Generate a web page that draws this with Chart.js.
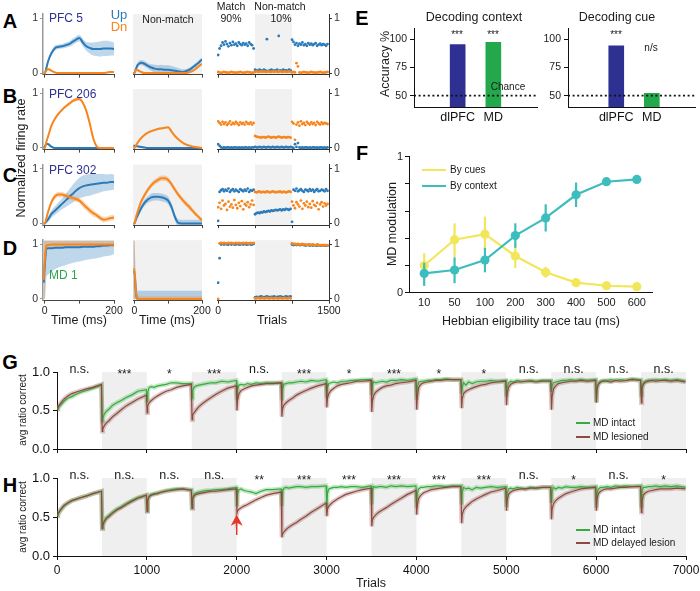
<!DOCTYPE html>
<html><head><meta charset="utf-8"><title>MD figure</title>
<script src="https://cdn.jsdelivr.net/npm/chart.js@4.4.1/dist/chart.umd.min.js"></script>
<style>
html,body{margin:0;padding:0;background:#fff;}
#root{position:relative;width:700px;height:591px;overflow:hidden;font-family:"Liberation Sans",Arial,Helvetica,sans-serif;color:#1a1a1a;}
#root canvas{position:absolute;}
.t{position:absolute;white-space:nowrap;line-height:1;}
.sw{position:absolute;height:2px;}
</style></head><body><div id="root"></div>
<script>
// ================= DATA =================
// Panels A-D : time course (ms)
const timeMs = [-3,0,5,10,20,30,40,50,60,70,80,90,100,110,120,130,140,150,160,170,180,190,200];
// PFC 5
const pfc5UpMatch    = [0,0,0.10,0.22,0.37,0.46,0.48,0.49,0.51,0.53,0.57,0.61,0.64,0.56,0.49,0.46,0.44,0.44,0.44,0.45,0.45,0.45,0.44];
const pfc5UpMatchSem = [0,0,0.02,0.03,0.04,0.05,0.04,0.04,0.05,0.05,0.06,0.06,0.06,0.07,0.08,0.10,0.12,0.13,0.14,0.14,0.14,0.13,0.12];
const pfc5DnMatch    = [0,0,0.05,0.07,0.04,0.01,0,0,0,0,0,0,0,0,0,0,0,0,0,0,0.01,0.02,0.02];
const pfc5UpNon      = [0,0,0.08,0.15,0.19,0.17,0.13,0.10,0.08,0.07,0.07,0.06,0.06,0.05,0.04,0.03,0.02,0.03,0.05,0.09,0.14,0.19,0.25];
const pfc5UpNonSem   = [0,0,0.02,0.04,0.05,0.05,0.05,0.06,0.07,0.07,0.08,0.08,0.08,0.08,0.07,0.06,0.05,0.04,0.04,0.04,0.04,0.04,0.04];
const pfc5DnNon      = [0,0,0.06,0.05,0.02,0,0,0,0,0,0,0,0,0,0,0,0,0,0.01,0.03,0.07,0.12,0.17];
const smallSem       = [0,0,0.01,0.02,0.02,0.01,0.01,0.01,0.01,0.01,0.01,0.01,0.01,0.01,0.01,0.01,0.01,0.01,0.01,0.01,0.01,0.01,0.01];
// PFC 206
const pfc206UpMatch    = [0,0.02,0.08,0.07,0.02,0,0,0,0,0,0,0,0,0,0,0,0,0,0,0,0,0,0];
const pfc206DnMatch    = [0,0,0.12,0.22,0.42,0.54,0.63,0.70,0.76,0.81,0.86,0.89,0.90,0.83,0.68,0.45,0.18,0.03,0,0,0,0,0];
const pfc206DnMatchSem = [0,0,0.02,0.03,0.03,0.03,0.03,0.03,0.03,0.03,0.03,0.03,0.03,0.04,0.04,0.04,0.03,0.02,0.01,0.01,0.01,0.01,0.01];
const pfc206UpNon      = [0.04,0.04,0.035,0.03,0.02,0.01,0,0,0,0,0,0,0,0,0,0,0,0,0,0,0,0,0];
const pfc206DnNon      = [0,0,0.05,0.10,0.18,0.24,0.28,0.31,0.33,0.35,0.36,0.37,0.38,0.30,0.22,0.16,0.11,0.07,0.05,0.03,0.02,0.01,0];
const pfc206DnNonSem   = [0,0,0.01,0.02,0.02,0.02,0.02,0.02,0.02,0.02,0.02,0.02,0.02,0.02,0.02,0.02,0.02,0.02,0.01,0.01,0.01,0.01,0.01];
// PFC 302
const pfc302UpMatch    = [0,0,0.04,0.08,0.18,0.24,0.30,0.36,0.42,0.48,0.54,0.60,0.65,0.68,0.70,0.71,0.72,0.73,0.74,0.75,0.75,0.76,0.76];
const pfc302UpMatchSem = [0,0,0.03,0.05,0.07,0.08,0.09,0.10,0.12,0.14,0.16,0.18,0.19,0.20,0.20,0.20,0.19,0.18,0.17,0.16,0.15,0.15,0.14];
const pfc302DnMatch    = [0,0,0.10,0.22,0.40,0.50,0.53,0.53,0.51,0.49,0.47,0.45,0.42,0.36,0.30,0.24,0.19,0.15,0.10,0.07,0.08,0.10,0.11];
const pfc302DnMatchSem = [0,0,0.03,0.04,0.05,0.05,0.05,0.05,0.05,0.05,0.05,0.05,0.05,0.06,0.06,0.06,0.06,0.05,0.05,0.05,0.05,0.05,0.05];
const pfc302UpNon      = [0,0,0.08,0.15,0.28,0.38,0.44,0.48,0.49,0.49,0.48,0.46,0.42,0.30,0.12,0.01,0,0,0,0,0,0,0];
const pfc302UpNonSem   = [0,0,0.03,0.04,0.05,0.06,0.06,0.07,0.07,0.07,0.07,0.07,0.07,0.07,0.07,0.07,0.07,0.07,0.07,0.07,0.07,0.07,0.07];
const pfc302DnNon      = [0,0,0.12,0.22,0.40,0.52,0.62,0.70,0.76,0.80,0.83,0.83,0.80,0.72,0.62,0.53,0.45,0.38,0.32,0.25,0.18,0.12,0.06];
const pfc302DnNonSem   = [0,0,0.03,0.04,0.05,0.05,0.05,0.05,0.05,0.05,0.05,0.05,0.05,0.05,0.05,0.05,0.05,0.05,0.05,0.05,0.04,0.04,0.04];
// MD 1
const md1UpMatch   = [0.30,0.60,0.92,0.93,0.93,0.94,0.94,0.94,0.95,0.95,0.95,0.95,0.95,0.96,0.96,0.96,0.96,0.97,0.97,0.98,0.98,0.99,0.99];
const md1UpMatchLo = [0,0,0.40,0.45,0.50,0.55,0.58,0.60,0.62,0.64,0.66,0.68,0.69,0.70,0.72,0.73,0.74,0.75,0.76,0.78,0.79,0.80,0.82];
const md1UpMatchHi = [1.08,1.08,1.08,1.08,1.08,1.08,1.08,1.08,1.08,1.08,1.08,1.08,1.08,1.08,1.08,1.08,1.08,1.08,1.08,1.08,1.08,1.08,1.08];
const md1DnMatch   = [0.35,0.70,0.98,0.99,1,1,1,1,1,1,1,1,1,1,1,1,1,1,1,1,1,1,1];
const md1DnMatchLo = [0,0,0.90,0.94,0.95,0.95,0.95,0.95,0.95,0.95,0.95,0.95,0.95,0.95,0.95,0.95,0.95,0.95,0.95,0.95,0.95,0.95,0.95];
const md1DnMatchHi = [1.08,1.08,1.08,1.08,1.08,1.08,1.08,1.08,1.08,1.08,1.08,1.08,1.08,1.08,1.08,1.08,1.08,1.08,1.08,1.08,1.08,1.08,1.08];
const md1UpNon     = [0.50,0.50,0.10,0,0,0,0,0,0,0,0,0,0,0,0,0,0,0,0,0,0,0,0];
const md1UpNonLo   = [0,0,0,0,0,0,0,0,0,0,0,0,0,0,0,0,0,0,0,0,0,0,0];
const md1UpNonHi   = [1.08,1.08,0.30,0.15,0.15,0.15,0.15,0.15,0.15,0.15,0.15,0.15,0.15,0.15,0.15,0.15,0.15,0.15,0.15,0.15,0.15,0.15,0.15];
const md1DnNon     = [0.55,0.55,0.12,0,0,0,0,0,0,0,0,0,0,0,0,0,0,0,0,0,0,0,0];
const md1DnNonLo   = [0,0,0,0,0,0,0,0,0,0,0,0,0,0,0,0,0,0,0,0,0,0,0];
const md1DnNonHi   = [1.08,1.08,0.25,0.05,0.05,0.05,0.05,0.05,0.05,0.05,0.05,0.05,0.05,0.05,0.05,0.05,0.05,0.05,0.05,0.05,0.05,0.05,0.05];

// Trial-by-trial firing (right column)
const trialIdx = [0,20,40,60,80,100,120,140,160,180,200,220,240,260,280,300,320,340,360,380,400,420,440,460,480,
  500,520,540,560,580,600,620,640,660,680,700,720,740,760,780,800,820,840,860,880,900,920,940,960,980,
  1000,1020,1040,1060,1080,1100,1120,1140,1160,1180,1200,1220,1240,1260,1280,1300,1320,1340,1360,1380,1400,1420,1440,1460,1480];
const pfc5UpTrials = [0.33,0.45,0.50,0.56,0.52,0.58,0.53,0.49,0.55,0.51,0.57,0.52,0.54,0.50,0.56,0.53,0.51,0.55,0.52,0.54,0.50,0.56,0.53,0.51,0.45,
  0.06,0.05,0.04,0.06,0.05,0.04,0.06,0.05,0.62,0.04,0.05,0.06,0.05,0.04,0.05,0.06,0.68,0.05,0.04,0.06,0.05,0.05,0.04,0.06,0.05,
  0.61,0.57,0.52,0.55,0.50,0.54,0.52,0.56,0.51,0.53,0.50,0.55,0.52,0.54,0.51,0.53,0.55,0.50,0.52,0.54,0.51,0.53,0.52,0.50,0.53];
const pfc5DnTrials = [0.02,0.01,0.00,0.01,0.02,0.01,0.01,0.00,0.01,0.02,0.01,0.01,0.00,0.01,0.01,0.02,0.01,0.00,0.01,0.01,0.02,0.01,0.01,0.00,0.01,
  0.02,0.03,0.02,0.02,0.03,0.02,0.03,0.02,0.02,0.03,0.02,0.02,0.03,0.02,0.03,0.02,0.02,0.03,0.02,0.02,0.03,0.02,0.02,0.03,0.02,
  0.01,0.02,0.01,0.18,0.12,0.01,0.00,0.01,0.02,0.01,0.01,0.00,0.01,0.02,0.01,0.01,0.00,0.01,0.01,0.02,0.01,0.00,0.01,0.01,0.02];
const pfc206UpTrials = [0.07,0.04,0.01,0.00,0.01,0.00,0.01,0.01,0.00,0.01,0.00,0.01,0.01,0.00,0.01,0.00,0.01,0.00,0.01,0.01,0.00,0.01,0.00,0.01,0.01,
  0.02,0.01,0.01,0.02,0.01,0.01,0.02,0.01,0.01,0.02,0.01,0.01,0.02,0.01,0.01,0.02,0.01,0.01,0.02,0.01,0.01,0.02,0.01,0.01,0.02,
  0.01,0.00,0.07,0.02,0.09,0.01,0.00,0.01,0.00,0.01,0.01,0.00,0.01,0.00,0.01,0.01,0.00,0.01,0.00,0.01,0.01,0.00,0.01,0.00,0.01];
const pfc206DnTrials = [0.49,0.46,0.43,0.48,0.44,0.47,0.42,0.45,0.49,0.43,0.46,0.44,0.48,0.45,0.42,0.47,0.44,0.46,0.43,0.48,0.45,0.44,0.47,0.43,0.46,
  0.22,0.21,0.20,0.20,0.19,0.20,0.20,0.19,0.20,0.21,0.20,0.19,0.20,0.20,0.19,0.20,0.21,0.20,0.19,0.20,0.20,0.19,0.20,0.20,0.19,
  0.48,0.45,0.15,0.43,0.47,0.41,0.49,0.44,0.46,0.42,0.48,0.45,0.43,0.47,0.44,0.46,0.42,0.48,0.45,0.43,0.47,0.44,0.46,0.45,0.44];
const pfc302UpTrials = [0.05,0.58,0.61,0.63,0.59,0.62,0.60,0.64,0.58,0.61,0.63,0.59,0.62,0.60,0.58,0.63,0.61,0.59,0.62,0.60,0.64,0.58,0.61,0.60,0.62,
  0.17,0.19,0.20,0.19,0.21,0.20,0.22,0.21,0.22,0.23,0.22,0.24,0.23,0.24,0.25,0.24,0.25,0.26,0.24,0.26,0.25,0.27,0.26,0.25,0.27,
  0.03,0.62,0.60,0.64,0.59,0.61,0.63,0.60,0.58,0.62,0.61,0.59,0.63,0.60,0.62,0.58,0.61,0.63,0.59,0.60,0.62,0.61,0.59,0.63,0.60];
const pfc302DnTrials = [0.30,0.38,0.27,0.42,0.33,0.36,0.25,0.40,0.31,0.35,0.29,0.43,0.34,0.28,0.38,0.32,0.41,0.26,0.36,0.33,0.39,0.30,0.35,0.42,0.34,
  0.58,0.57,0.58,0.59,0.57,0.58,0.58,0.57,0.59,0.58,0.57,0.58,0.59,0.58,0.57,0.58,0.58,0.59,0.57,0.58,0.58,0.57,0.58,0.59,0.58,
  0.40,0.33,0.28,0.39,0.35,0.31,0.42,0.27,0.37,0.33,0.40,0.30,0.36,0.29,0.41,0.34,0.32,0.38,0.26,0.35,0.39,0.31,0.37,0.33,0.36];
const md1UpTrials = [0.30,0.75,1.00,1.01,1.00,1.01,1.00,1.00,1.01,1.00,1.01,1.00,1.00,1.01,1.00,1.00,1.01,1.00,1.01,1.00,1.00,1.01,1.00,1.00,1.01,
  0.03,0.04,0.03,0.04,0.05,0.04,0.03,0.04,0.05,0.04,0.03,0.04,0.04,0.05,0.03,0.04,0.04,0.05,0.04,0.03,0.04,0.05,0.04,0.04,0.05,
  1.00,0.99,1.00,0.99,1.00,0.99,0.99,1.00,0.99,0.98,0.99,0.99,0.98,0.99,0.98,0.99,0.98,0.98,0.99,0.98,0.98,0.99,0.98,0.98,0.98];
const md1DnTrials = [0.00,1.02,1.03,1.02,1.03,1.02,1.02,1.03,1.02,1.03,1.02,1.02,1.03,1.02,1.03,1.02,1.02,1.03,1.02,1.03,1.02,1.02,1.03,1.02,1.03,
  0.01,0.01,0.02,0.01,0.01,0.02,0.01,0.01,0.02,0.01,0.01,0.02,0.01,0.01,0.02,0.01,0.01,0.02,0.01,0.01,0.02,0.01,0.01,0.02,0.01,
  1.02,1.01,1.01,1.00,1.01,1.00,1.00,1.01,1.00,1.00,0.99,1.00,1.00,0.99,1.00,0.99,0.99,1.00,0.99,0.99,0.99,0.98,0.99,0.99,0.98];

// Panel E : decoding accuracy (%)
const decodeCats = ['dlPFC','MD'];
const contextAcc = [95, 97];
const cueAcc = [94, 52];
const chanceLevel = 50;

// Panel F : MD modulation
const tauLabels = ['10','50','100','200','300','400','500','600'];
const byCues      = [0.20,0.39,0.43,0.27,0.15,0.074,0.051,0.044];
const byCuesLo    = [0.14,0.26,0.31,0.18,0.11,null,null,null];
const byCuesHi    = [0.29,0.51,0.56,0.36,0.19,null,null,null];
const byContext   = [0.142,0.167,0.24,0.42,0.55,0.72,0.816,0.833];
const byContextLo = [0.05,0.07,0.15,0.33,0.45,0.63,null,null];
const byContextHi = [0.22,0.26,0.33,0.51,0.65,0.81,null,null];

// Panels G/H : avg ratio correct over trials
const trialsGH = [
 3,10,25,50,80,120,165,215,270,330,400,495,
 503,510,525,550,580,620,665,715,770,830,900,995,
 1003,1010,1025,1050,1080,1120,1165,1215,1270,1330,1400,1495,
 1503,1510,1525,1550,1580,1620,1665,1715,1770,1830,1900,1995,
 2003,2010,2025,2050,2080,2120,2165,2215,2270,2330,2400,2495,
 2503,2510,2525,2550,2580,2620,2665,2715,2770,2830,2900,2995,
 3003,3010,3025,3050,3080,3120,3165,3215,3270,3330,3400,3495,
 3503,3510,3525,3550,3580,3620,3665,3715,3770,3830,3900,3995,
 4003,4010,4025,4050,4080,4120,4165,4215,4270,4330,4400,4495,
 4503,4510,4525,4550,4580,4620,4665,4715,4770,4830,4900,4995,
 5003,5010,5025,5050,5080,5120,5165,5215,5270,5330,5400,5495,
 5503,5510,5525,5550,5580,5620,5665,5715,5770,5830,5900,5995,
 6003,6010,6025,6050,6080,6120,6165,6215,6270,6330,6400,6495,
 6503,6510,6525,6550,6580,6620,6665,6715,6770,6830,6900,6995];
const gIntact = [
 0.52,0.53,0.55,0.58,0.62,0.66,0.68,0.71,0.74,0.76,0.79,0.83,
 0.36,0.40,0.45,0.49,0.52,0.57,0.60,0.63,0.67,0.70,0.75,0.77,
 0.62,0.74,0.80,0.81,0.80,0.82,0.83,0.84,0.86,0.86,0.85,0.85,
 0.66,0.76,0.80,0.82,0.83,0.84,0.85,0.86,0.86,0.88,0.87,0.89,
 0.64,0.78,0.83,0.84,0.83,0.85,0.84,0.86,0.85,0.86,0.86,0.86,
 0.63,0.78,0.84,0.85,0.86,0.86,0.87,0.88,0.87,0.89,0.88,0.90,
 0.66,0.80,0.85,0.86,0.87,0.86,0.88,0.88,0.89,0.89,0.90,0.90,
 0.70,0.83,0.87,0.86,0.87,0.88,0.87,0.89,0.89,0.90,0.89,0.91,
 0.64,0.80,0.87,0.88,0.88,0.89,0.89,0.90,0.90,0.91,0.90,0.90,
 0.72,0.80,0.86,0.83,0.87,0.85,0.87,0.88,0.88,0.89,0.88,0.89,
 0.68,0.80,0.86,0.88,0.87,0.89,0.88,0.88,0.89,0.88,0.89,0.89,
 0.74,0.82,0.86,0.87,0.88,0.89,0.89,0.90,0.89,0.90,0.89,0.90,
 0.61,0.80,0.86,0.88,0.89,0.89,0.90,0.89,0.90,0.89,0.91,0.90,
 0.70,0.82,0.86,0.88,0.89,0.89,0.90,0.89,0.90,0.89,0.90,0.88];
const gLesioned = [
 0.52,0.54,0.57,0.61,0.65,0.69,0.72,0.74,0.76,0.78,0.80,0.84,
 0.23,0.26,0.30,0.34,0.37,0.42,0.46,0.51,0.56,0.60,0.65,0.70,
 0.47,0.56,0.60,0.63,0.66,0.69,0.72,0.75,0.77,0.80,0.82,0.84,
 0.38,0.44,0.47,0.51,0.55,0.59,0.63,0.67,0.71,0.75,0.79,0.82,
 0.50,0.64,0.72,0.76,0.78,0.80,0.82,0.83,0.84,0.85,0.85,0.86,
 0.42,0.52,0.57,0.60,0.63,0.66,0.70,0.73,0.76,0.79,0.82,0.85,
 0.54,0.66,0.72,0.76,0.79,0.82,0.84,0.85,0.86,0.88,0.88,0.89,
 0.48,0.62,0.70,0.74,0.77,0.80,0.82,0.83,0.85,0.86,0.87,0.89,
 0.51,0.68,0.80,0.84,0.86,0.87,0.88,0.89,0.89,0.90,0.90,0.90,
 0.53,0.65,0.72,0.75,0.77,0.79,0.81,0.83,0.84,0.86,0.87,0.88,
 0.57,0.72,0.80,0.84,0.86,0.87,0.87,0.88,0.88,0.87,0.88,0.88,
 0.51,0.68,0.78,0.82,0.85,0.86,0.87,0.88,0.88,0.89,0.88,0.89,
 0.60,0.78,0.84,0.87,0.88,0.88,0.87,0.89,0.88,0.89,0.90,0.89,
 0.60,0.78,0.84,0.87,0.88,0.89,0.88,0.89,0.89,0.88,0.89,0.87];
const hIntact = [
 0.52,0.53,0.56,0.60,0.64,0.68,0.71,0.73,0.75,0.77,0.80,0.83,
 0.36,0.40,0.45,0.49,0.52,0.56,0.60,0.63,0.67,0.71,0.75,0.78,
 0.58,0.72,0.77,0.79,0.80,0.81,0.82,0.84,0.85,0.86,0.86,0.85,
 0.62,0.75,0.79,0.81,0.82,0.83,0.84,0.84,0.85,0.85,0.86,0.88,
 0.64,0.80,0.85,0.86,0.84,0.83,0.82,0.80,0.83,0.85,0.85,0.86,
 0.64,0.82,0.87,0.88,0.87,0.88,0.89,0.89,0.88,0.89,0.89,0.90,
 0.62,0.80,0.86,0.87,0.88,0.88,0.89,0.88,0.89,0.89,0.88,0.90,
 0.66,0.84,0.89,0.88,0.89,0.89,0.88,0.90,0.89,0.90,0.89,0.90,
 0.62,0.80,0.86,0.88,0.88,0.89,0.89,0.90,0.90,0.89,0.90,0.90,
 0.66,0.82,0.88,0.86,0.87,0.85,0.88,0.87,0.88,0.89,0.88,0.89,
 0.63,0.80,0.86,0.87,0.86,0.88,0.87,0.86,0.88,0.87,0.88,0.88,
 0.68,0.83,0.88,0.86,0.88,0.87,0.89,0.88,0.88,0.89,0.88,0.89,
 0.62,0.80,0.86,0.88,0.88,0.89,0.88,0.90,0.89,0.90,0.89,0.90,
 0.64,0.82,0.88,0.88,0.89,0.89,0.90,0.89,0.90,0.89,0.90,0.88];
const hDelayed = [
 0.52,0.54,0.57,0.61,0.65,0.68,0.71,0.73,0.75,0.77,0.80,0.83,
 0.35,0.39,0.44,0.48,0.51,0.55,0.59,0.62,0.66,0.70,0.74,0.78,
 0.57,0.71,0.76,0.78,0.79,0.80,0.82,0.83,0.84,0.85,0.86,0.84,
 0.61,0.73,0.77,0.79,0.80,0.81,0.82,0.83,0.83,0.84,0.85,0.86,
 0.55,0.58,0.60,0.62,0.64,0.66,0.69,0.72,0.75,0.78,0.80,0.82,
 0.24,0.28,0.31,0.34,0.37,0.40,0.43,0.47,0.51,0.56,0.61,0.68,
 0.51,0.60,0.64,0.67,0.70,0.73,0.76,0.79,0.81,0.83,0.85,0.87,
 0.38,0.46,0.50,0.53,0.56,0.59,0.62,0.66,0.70,0.74,0.79,0.84,
 0.53,0.66,0.74,0.78,0.81,0.83,0.85,0.86,0.87,0.88,0.89,0.89,
 0.42,0.53,0.59,0.63,0.66,0.70,0.73,0.76,0.79,0.82,0.84,0.87,
 0.58,0.72,0.79,0.82,0.84,0.85,0.86,0.86,0.87,0.87,0.88,0.88,
 0.47,0.60,0.67,0.71,0.74,0.77,0.80,0.82,0.84,0.86,0.87,0.88,
 0.58,0.74,0.80,0.83,0.85,0.86,0.86,0.87,0.88,0.88,0.89,0.89,
 0.56,0.70,0.78,0.81,0.83,0.84,0.85,0.86,0.86,0.86,0.87,0.86];
const gSig = ['n.s.','***','*','***','n.s.','***','*','***','*','*','n.s.','n.s.','n.s.','n.s.'];
const hSig = ['n.s.','n.s.','n.s.','n.s.','**','***','***','***','***','***','n.s.','*','n.s.','*'];
const ghTickLabels = [0,1000,2000,3000,4000,5000,6000,7000];
const ghBlocks = [[500,1000],[1500,2000],[2500,3000],[3500,4000],[4500,5000],[5500,6000],[6500,7000]];
const lesionOnsetTrial = 2000;

// ================= RENDER =================
Chart.defaults.font.family = '"Liberation Sans", Arial, Helvetica, sans-serif';
Chart.defaults.color = '#1a1a1a';
Chart.defaults.animation = false;
Chart.defaults.plugins.legend.display = false;
Chart.defaults.plugins.tooltip.enabled = false;
Chart.defaults.events = [];

const root = document.getElementById('root');
const COL = {up:'#2b7bba', dn:'#f7861f', upBand:'rgba(43,123,186,0.30)', dnBand:'rgba(247,134,31,0.32)',
  navy:'#2e3192', green:'#23a84b', teal:'#3dbdbd', yellow:'#f2e65a',
  gLine:'#38ab3e', bLine:'#8b4a40', gBand:'rgba(60,180,70,0.30)', bBand:'rgba(150,80,70,0.30)', shade:'#f1f1f1'};
const pts = (xs, ys) => xs.map((x, i) => ({x, y: ys[i]}));

function mk(plot, m, cfg){
  const cl=Math.floor(plot.l-m.l), ct=Math.floor(plot.t-m.t), cr=Math.ceil(plot.r+m.r), cb=Math.ceil(plot.b+m.b);
  const W=cr-cl, H=cb-ct;
  const cv=document.createElement('canvas');
  cv.width=W; cv.height=H;
  Object.assign(cv.style,{left:cl+'px',top:ct+'px',width:W+'px',height:H+'px'});
  root.appendChild(cv);
  const sz={left:plot.l-cl, right:cr-plot.r, top:plot.t-ct, bottom:cb-plot.b};
  const used={};
  for (const s of Object.values(cfg.options.scales)) {
    if (s.display===false) continue;
    used[s.position]=true;
    s.afterFit = a => { const p=a.options.position; if(p==='left'||p==='right') a.width=sz[p]; else a.height=sz[p];
      a.paddingLeft=a.paddingRight=a.paddingTop=a.paddingBottom=0; };
  }
  cfg.options.layout={autoPadding:false,padding:{left:used.left?0:sz.left,right:used.right?0:sz.right,top:used.top?0:sz.top,bottom:used.bottom?0:sz.bottom}};
  cfg.options.responsive=false; cfg.options.maintainAspectRatio=false; cfg.options.animation=false; cfg.options.devicePixelRatio=1;
  return new Chart(cv,cfg);
}
function fixedTicks(vals){ return s => { s.ticks = vals.map(v => ({value:v})); }; }
function shadePlugin(ranges, color){ return {id:'shade', beforeDraw(c){
  const {ctx, chartArea:r} = c, x = c.scales.x; ctx.save(); ctx.fillStyle = color;
  for (const [a0,a1] of ranges){ const p0=Math.max(r.left,x.getPixelForValue(a0)), p1=Math.min(r.right,x.getPixelForValue(a1)); if(p1>p0) ctx.fillRect(p0,r.top,p1-p0,r.bottom-r.top); }
  ctx.restore(); }}; }
function sigPlugin(labels, block){ return {id:'sig', afterDraw(c){
  const ctx=c.ctx, x=c.scales.x, top=c.chartArea.top; ctx.save(); ctx.fillStyle='#1a1a1a'; ctx.textAlign='center'; ctx.textBaseline='alphabetic';
  labels.forEach((s,i)=>{ const px=x.getPixelForValue(i*block+block/2); const star=s.charAt(0)==='*';
    ctx.font=(star?'12px':'12.5px')+' "Liberation Sans", Arial'; ctx.fillText(s, px, star? top+6 : top+1); });
  ctx.restore(); }}; }
function arrowPlugin(xv, yTail, yTip){ return {id:'arrow', afterDatasetsDraw(c){
  const x=c.scales.x.getPixelForValue(xv), y0=c.scales.y.getPixelForValue(yTail), y1=c.scales.y.getPixelForValue(yTip), ctx=c.ctx;
  ctx.save(); ctx.strokeStyle=ctx.fillStyle='#e8352b'; ctx.lineWidth=1.5;
  ctx.beginPath(); ctx.moveTo(x,y0); ctx.lineTo(x,y1+7); ctx.stroke();
  ctx.beginPath(); ctx.moveTo(x,y1); ctx.lineTo(x-6,y1+11); ctx.lineTo(x,y1+8); ctx.lineTo(x+6,y1+11); ctx.closePath(); ctx.fill();
  ctx.restore(); }}; }
function errPlugin(sets){ return {id:'err', afterDatasetDraw(c, args){
  const s=sets[args.index]; if(!s) return; const ctx=c.ctx, x=c.scales.x, y=c.scales.y;
  ctx.save(); ctx.strokeStyle=s.color; ctx.lineWidth=2.2;
  s.lo.forEach((lo,i)=>{ if(lo==null) return; const px=x.getPixelForValue(i);
    ctx.beginPath(); ctx.moveTo(px,y.getPixelForValue(lo)); ctx.lineTo(px,y.getPixelForValue(s.hi[i])); ctx.stroke(); });
  ctx.restore(); }}; }

// ---------- Panels A-D ----------
const rowsY = [{y1:18.5,y0:73},{y1:93.5,y0:148},{y1:169,y0:223.5},{y1:244.5,y0:299}];
const Y_MIN=-0.03, Y_MAX=1.08;
const rows = [
  {match:{up:pfc5UpMatch,upSem:pfc5UpMatchSem,dn:pfc5DnMatch,dnSem:smallSem},
   non:{up:pfc5UpNon,upSem:pfc5UpNonSem,dn:pfc5DnNon,dnSem:smallSem}, tr:{up:pfc5UpTrials,dn:pfc5DnTrials}},
  {match:{up:pfc206UpMatch,upSem:smallSem,dn:pfc206DnMatch,dnSem:pfc206DnMatchSem},
   non:{up:pfc206UpNon,upSem:smallSem,dn:pfc206DnNon,dnSem:pfc206DnNonSem}, tr:{up:pfc206UpTrials,dn:pfc206DnTrials}},
  {match:{up:pfc302UpMatch,upSem:pfc302UpMatchSem,dn:pfc302DnMatch,dnSem:pfc302DnMatchSem},
   non:{up:pfc302UpNon,upSem:pfc302UpNonSem,dn:pfc302DnNon,dnSem:pfc302DnNonSem}, tr:{up:pfc302UpTrials,dn:pfc302DnTrials}},
  {match:{up:md1UpMatch,upLo:md1UpMatchLo,upHi:md1UpMatchHi,dn:md1DnMatch,dnLo:md1DnMatchLo,dnHi:md1DnMatchHi},
   non:{up:md1UpNon,upLo:md1UpNonLo,upHi:md1UpNonHi,dn:md1DnNon,dnLo:md1DnNonLo,dnHi:md1DnNonHi}, tr:{up:md1UpTrials,dn:md1DnTrials}}
];
function bandOf(mean, sem, lo, hi){ return lo ? [lo, hi] : [mean.map((v,i)=>v-sem[i]), mean.map((v,i)=>v+sem[i])]; }
function lineSets(d){
  const [uLo,uHi]=bandOf(d.up,d.upSem,d.upLo,d.upHi), [dLo,dHi]=bandOf(d.dn,d.dnSem,d.dnLo,d.dnHi);
  const L = (ys,col,w)=>({type:'line',data:pts(timeMs,ys),borderColor:col,borderWidth:w,pointRadius:0,fill:false,cubicInterpolationMode:'monotone'});
  const B = (ys,col)=>({type:'line',data:pts(timeMs,ys),borderWidth:0,pointRadius:0,fill:'+1',backgroundColor:col,cubicInterpolationMode:'monotone'});
  return [L(d.dn,COL.dn,2), L(d.up,COL.up,2), B(dHi,COL.dnBand), L(dLo,'rgba(0,0,0,0)',0), B(uHi,COL.upBand), L(uLo,'rgba(0,0,0,0)',0)];
}
rows.forEach((row, r) => {
  const ry=rowsY[r], u=ry.y0-ry.y1, last=(r===3);
  const t=ry.y1-(Y_MAX-1)*u, b=ry.y0-Y_MIN*u;
  const yCfg = {type:'linear',position:'left',min:Y_MIN,max:Y_MAX};
  const xTime = (mn)=>({type:'linear',position:'bottom',min:mn,max:200,afterBuildTicks:fixedTicks([0,100,200]),
    ticks:{display:last,autoSkip:false,maxRotation:0,padding:1,font:{size:10.5},color:'#222',callback:v=>v===100?'':String(v)},
    grid:{drawOnChartArea:false,tickLength:3,color:'#444'},border:{color:'#444'}});
  // column 1: match trials
  mk({l:43,r:114,t,b},{l:14,r:12,t:3,b:last?15:4},{type:'line',data:{datasets:lineSets(row.match)},
    options:{scales:{x:xTime(-5),
      y:Object.assign({},yCfg,{afterBuildTicks:fixedTicks([0,1]),ticks:{padding:2,font:{size:10.5},color:'#333'},
        grid:{drawOnChartArea:false,tickLength:3,color:'#999'},border:{color:'#999',width:1.5}})}}});
  // column 2: non-match trials
  mk({l:133,r:202,t,b},{l:3,r:12,t:3,b:last?15:4},{type:'line',data:{datasets:lineSets(row.non)},
    options:{scales:{x:xTime(-4), y:Object.assign({},yCfg,{display:false})}},
    plugins:[shadePlugin([[-4,200]],COL.shade)]});
  // column 3: trial-by-trial
  mk({l:217,r:329,t,b},{l:6,r:12,t:3,b:last?15:4},{type:'scatter',data:{datasets:[
      {data:pts(trialIdx,row.tr.dn),backgroundColor:COL.dn,pointRadius:1.4,borderWidth:0},
      {data:pts(trialIdx,row.tr.up),backgroundColor:COL.up,pointRadius:1.4,borderWidth:0}]},
    options:{scales:{
      x:{type:'linear',position:'bottom',min:-15,max:1500,afterBuildTicks:fixedTicks([0,500,1000,1500]),
        ticks:{display:last,autoSkip:false,maxRotation:0,padding:1,font:{size:10.5},color:'#222',callback:v=>(v===0||v===1500)?String(v):''},
        grid:{drawOnChartArea:false,tickLength:3,color:'#333'},border:{color:'#333'}},
      y:Object.assign({},yCfg,{position:'right',afterBuildTicks:fixedTicks([0,1]),ticks:{padding:2,font:{size:10.5},color:'#333'},
        grid:{drawOnChartArea:false,tickLength:3,color:'#333'},border:{color:'#333'}})}},
    plugins:[shadePlugin([[500,1000]],COL.shade)]});
});

// ---------- Panel E ----------
function decodeChart(plot, vals, slots){
  return mk(plot,{l:30,r:6,t:4,b:20},{type:'bar',data:{datasets:[
      {type:'line',data:[{x:0,y:chanceLevel},{x:10,y:chanceLevel}],borderColor:'#111',borderWidth:1.6,borderDash:[2,2.6],pointRadius:0,fill:false},
      {type:'bar',data:vals.map((v,i)=>({x:slots[i],y:v})),backgroundColor:[COL.navy,COL.green],barThickness:15,base:40,borderWidth:0}]},
    options:{scales:{
      x:{type:'linear',position:'bottom',min:0,max:10,offset:false,afterBuildTicks:fixedTicks(slots),
        ticks:{autoSkip:false,maxRotation:0,padding:3,font:{size:12.5},color:'#111',callback:(v,i)=>decodeCats[i]},
        grid:{display:false,drawTicks:false,offset:false},border:{color:'#111'}},
      y:{type:'linear',position:'left',min:40,max:109,afterBuildTicks:fixedTicks([50,75,100]),
        ticks:{padding:3,font:{size:10.5},color:'#222'},grid:{drawOnChartArea:false,tickLength:4,color:'#111'},border:{color:'#111'}}}}});
}
decodeChart({l:414,r:537,t:28.8,b:107},contextAcc,[3.55,6.45]);
decodeChart({l:568,r:695,t:28.8,b:107},cueAcc,[3.8,6.6]);

// ---------- Panel F ----------
mk({l:409,r:652,t:156.7,b:292.7},{l:17,r:4,t:6,b:20},{type:'line',data:{labels:tauLabels,datasets:[
    {data:byContext,borderColor:COL.teal,backgroundColor:COL.teal,borderWidth:2.2,pointRadius:4.6,pointBorderWidth:0},
    {data:byCues,borderColor:COL.yellow,backgroundColor:COL.yellow,borderWidth:2.2,pointRadius:4.6,pointBorderWidth:0}]},
  options:{scales:{
    x:{type:'category',position:'bottom',offset:true,ticks:{padding:4,font:{size:11},color:'#222'},grid:{display:false,drawTicks:false},border:{color:'#111'}},
    y:{type:'linear',position:'left',min:0,max:1,afterBuildTicks:fixedTicks([0,0.2,0.4,0.6,0.8,1]),
      ticks:{padding:2,font:{size:11},color:'#222',callback:v=>(v===0||v===1)?String(v):''},
      grid:{drawOnChartArea:false,tickLength:4,color:'#111'},border:{color:'#111'}}}},
  plugins:[errPlugin([{lo:byContextLo,hi:byContextHi,color:COL.teal},{lo:byCuesLo,hi:byCuesHi,color:COL.yellow}])]});

// ---------- Panels G/H ----------
function ghChart(plot, m, intact, lesion, sig, showX, extra){
  return mk(plot, m, {type:'line',data:{datasets:[
      {data:pts(trialsGH,lesion),borderColor:COL.bLine,borderWidth:1.2,pointRadius:0},
      {data:pts(trialsGH,intact),borderColor:COL.gLine,borderWidth:1.2,pointRadius:0},
      {data:pts(trialsGH,lesion),borderColor:COL.bBand,borderWidth:4.5,pointRadius:0},
      {data:pts(trialsGH,intact),borderColor:COL.gBand,borderWidth:4.5,pointRadius:0}]},
    options:{scales:{
      x:{type:'linear',position:'bottom',min:0,max:7000,afterBuildTicks:fixedTicks(ghTickLabels),
        ticks:{display:showX,autoSkip:false,maxRotation:0,padding:3,font:{size:12},color:'#111',callback:v=>String(v)},
        grid:{drawOnChartArea:false,tickLength:4,color:'#111'},border:{color:'#111'}},
      y:{type:'linear',position:'left',min:0,max:1,afterBuildTicks:fixedTicks([0,0.5,1]),
        ticks:{padding:3,font:{size:13},color:'#111',callback:v=>v.toFixed(1)},
        grid:{drawOnChartArea:false,tickLength:4,color:'#111'},border:{color:'#111'}}}},
    plugins:[shadePlugin(ghBlocks,'#efefef'), sigPlugin(sig,500)].concat(extra||[])});
}
ghChart({l:57,r:686,t:372,b:449},{l:34,r:14,t:16,b:6},gIntact,gLesioned,gSig,false);
ghChart({l:57,r:686,t:478,b:556},{l:34,r:14,t:16,b:20},hIntact,hDelayed,hSig,true,[arrowPlugin(lesionOnsetTrial,0.27,0.53)]);

// ---------- Text ----------
function T(s, x, y, o={}){
  const d=document.createElement('div'); d.className='t'; d.textContent=s;
  d.style.left=x+'px'; d.style.top=y+'px'; d.style.fontSize=(o.size||12)+'px';
  if(o.bold) d.style.fontWeight='bold'; if(o.color) d.style.color=o.color;
  let tr = o.left ? 'translate(0,-50%)' : 'translate(-50%,-50%)'; if(o.rot) tr+=' rotate(-90deg)';
  d.style.transform=tr; root.appendChild(d);
}
function SW(x, y, w, color){ const d=document.createElement('div'); d.className='sw';
  Object.assign(d.style,{left:x+'px',top:(y-1)+'px',width:w+'px',background:color}); root.appendChild(d); }

[['A',10,21],['B',10,96],['C',10,175],['D',10,248],['E',362,18],['F',362,153],['G',10,362],['H',10,485]]
  .forEach(([s,x,y])=>T(s,x,y,{size:20,bold:true,color:'#000'}));
T('Up',119,14,{size:13,color:COL.up}); T('Dn',119,26,{size:13,color:COL.dn});
T('PFC 5',49,18,{size:12,color:COL.navy,left:true});
T('PFC 206',49,94,{size:12,color:COL.navy,left:true});
T('PFC 302',49,170,{size:12,color:COL.navy,left:true});
T('MD 1',49,275,{size:12,color:'#2aa64a',left:true});
T('Non-match',168,19,{size:10.5});
T('Match',231,6,{size:10.5}); T('90%',231,18,{size:10.5});
T('Non-match',280,6,{size:10.5}); T('10%',281,18,{size:10.5});
T('Time (ms)',79,320,{size:12.5}); T('Time (ms)',167,320,{size:12.5}); T('Trials',272,320,{size:12.5});
T('Normalized firing rate',21,158,{size:12.5,rot:true});
// E
T('Decoding context',474,17,{size:12.5}); T('Decoding cue',617,17,{size:12.5});
T('Accuracy %',385,64,{size:12.5,rot:true});
T('Chance',508,87,{size:10});
T('***',457,35,{size:10}); T('***',493,35,{size:10}); T('***',616,35,{size:10}); T('n/s',651,48,{size:10});
// F
T('MD modulation',392,224,{size:12.5,rot:true});
T('Hebbian eligibility trace tau (ms)',531,321,{size:12.5});
SW(422,170,24,COL.yellow); T('By cues',450,170,{size:10,left:true});
SW(422,186,24,COL.teal); T('By context',450,186,{size:10,left:true});
// G/H
T('avg ratio correct',23,410,{size:10,rot:true}); T('avg ratio correct',23,517,{size:10,rot:true});
SW(576,423,14,COL.gLine); T('MD intact',593,423,{size:10,left:true});
SW(576,437,14,COL.bLine); T('MD lesioned',593,437,{size:10,left:true});
SW(576,530,14,COL.gLine); T('MD intact',593,530,{size:10,left:true});
SW(576,543,14,COL.bLine); T('MD delayed lesion',593,543,{size:10,left:true});
T('Trials',371,583,{size:12.5});
</script></body></html>
